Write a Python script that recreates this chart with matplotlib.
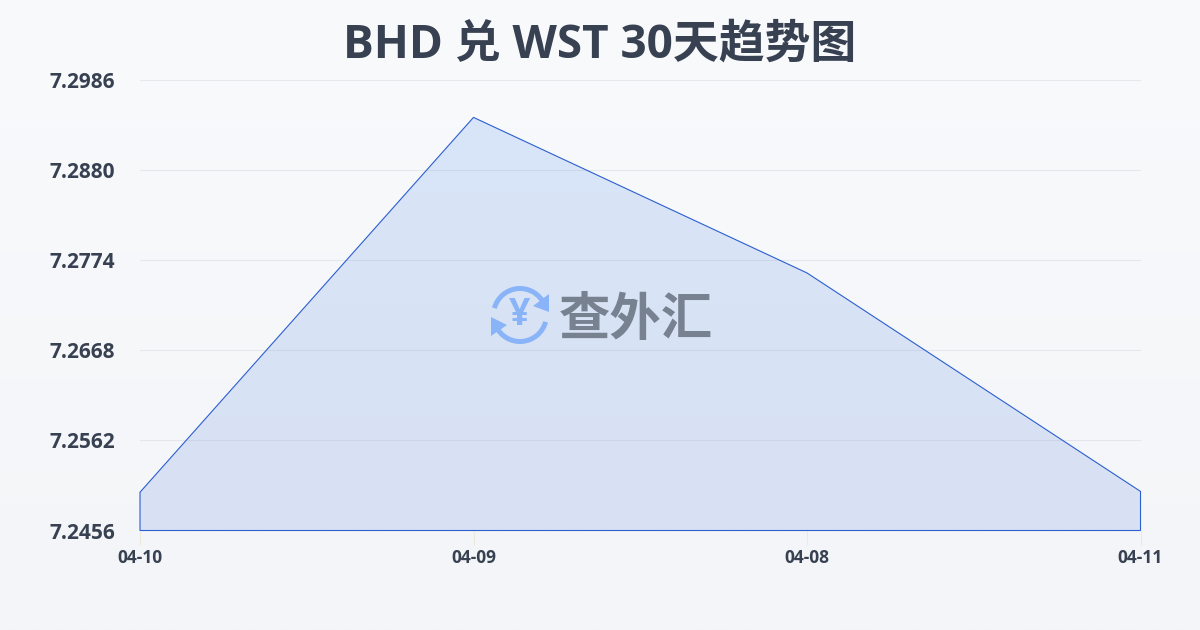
import numpy as np
import matplotlib
matplotlib.use("Agg")
import matplotlib.pyplot as plt
from matplotlib.colors import LinearSegmentedColormap
from matplotlib.patches import Arc, Polygon

plt.rcParams['font.family'] = ['Open Sans', 'Noto Sans CJK SC', 'DejaVu Sans']

# data
dates = ['04-10', '04-09', '04-08', '04-11']
rates = [7.2501, 7.2942, 7.2759, 7.2502]
y_ticks = [7.2456, 7.2562, 7.2668, 7.2774, 7.2880, 7.2986]
title = 'BHD 兑 WST 30天趋势图'

fig = plt.figure(figsize=(12, 6.3), dpi=100)

# page background gradient
bg = fig.add_axes([0, 0, 1, 1], zorder=0)
bg_cmap = LinearSegmentedColormap.from_list('bg', ['#f9fafc', '#f3f5f8'])
bg.imshow(np.linspace(0, 1, 256).reshape(-1, 1), cmap=bg_cmap, aspect='auto')
bg.axis('off')

ax = fig.add_axes([140 / 1200, 1 - 530.5 / 630, 1000.5 / 1200, 450.5 / 630], zorder=1)
ax.patch.set_alpha(0)
x = np.arange(len(dates))

# area fill with a slight vertical gradient, clipped to the area
fill_cmap = LinearSegmentedColormap.from_list('fill', ['#d9e5f8', '#d8e1f4'])
im = ax.imshow(np.linspace(0, 1, 256).reshape(-1, 1), cmap=fill_cmap, aspect='auto',
               extent=[x[0], x[-1], y_ticks[0], y_ticks[-1]], zorder=2)
area = Polygon(list(zip(x, rates)) + [(x[-1], y_ticks[0]), (x[0], y_ticks[0])],
               closed=True, facecolor='none', edgecolor='#2b5fd0', linewidth=0.8, zorder=3,
               clip_on=False)
ax.add_patch(area)
im.set_clip_path(area)

ax.set_xlim(x[0], x[-1])
ax.set_ylim(y_ticks[0], y_ticks[-1])
ax.set_xticks(x)
ax.set_xticklabels(dates, fontsize=12.5, fontweight='bold', color='#374151')
ax.set_yticks(y_ticks)
ax.set_yticklabels(['%.4f' % v for v in y_ticks], fontsize=15, fontweight='bold', color='#374151')
ax.tick_params(axis='x', length=10, width=0.8, color='#eee9dc', pad=3)
ax.tick_params(axis='y', length=0, pad=18)
for lab in ax.get_yticklabels():
    lab.set_y(lab.get_position()[1])
ax.grid(axis='y', color='#a0a8b8', alpha=0.2, linewidth=0.8, zorder=4)
ax.set_axisbelow(False)
for s in ax.spines.values():
    s.set_visible(False)

fig.text(0.5, 1 - 45 / 630, title, ha='center', va='center', fontsize=33, fontweight='bold', color='#374151')

# watermark: logo and name, in pixel coordinates of the figure
wm = fig.add_axes([0, 0, 1, 1], zorder=5)
wm.set_xlim(0, 1200)
wm.set_ylim(630, 0)
wm.axis('off')
logo_blue = '#8ab4f8'
cx, cy, r = 520, 315, 26.5
wm.add_patch(Arc((cx, cy), 2 * r, 2 * r, theta1=195, theta2=335, color=logo_blue, lw=3.6))
wm.add_patch(Arc((cx, cy), 2 * r, 2 * r, theta1=15, theta2=155, color=logo_blue, lw=3.6))
wm.add_patch(Polygon([(549, 294), (549, 312), (533, 306)], closed=True, color=logo_blue, lw=0))
wm.add_patch(Polygon([(491, 317), (491, 336), (507, 325)], closed=True, color=logo_blue, lw=0))
wm.text(cx, cy, '¥', ha='center', va='center', fontsize=27, fontweight='bold', color=logo_blue)
wm.text(636, 319, '查外汇', ha='center', va='center', fontsize=37, fontweight='bold', color='#788190',
        family=['Noto Sans CJK SC'])

fig.savefig('out.png', dpi=100)
